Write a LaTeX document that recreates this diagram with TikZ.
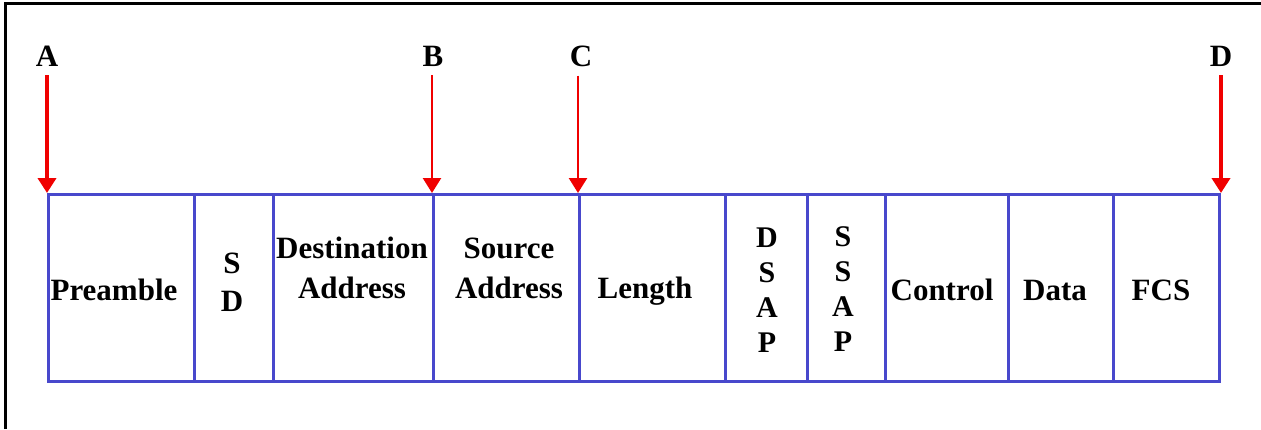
\documentclass[tikz,border=0pt]{standalone}
\usepackage{fontspec}
\setmainfont{Liberation Serif}
\usetikzlibrary{arrows.meta}
\definecolor{frameblue}{RGB}{72,72,204}
\definecolor{arrowred}{RGB}{240,0,0}
\begin{document}
\begin{tikzpicture}[x=1pt,y=-1pt,
 cell/.style={draw=frameblue,line width=3pt,inner sep=0pt,minimum height=187pt,anchor=north west},
 lbl/.style={font=\fontsize{31}{36}\selectfont\bfseries,align=center,inner sep=0pt},
 marker/.style={font=\fontsize{31}{36}\selectfont\bfseries,inner sep=0pt},
 ptr/.style={draw=arrowred,line width=4pt,shorten <=9pt,-{Triangle[width=18pt,length=15pt]}},
 thinptr/.style={ptr,line width=2.5pt}]
\useasboundingbox (0,0) rectangle (1261,429);
\fill[white] (0,0) rectangle (1261,429);
\draw[line width=3pt] (5,429) -- (5,3) -- (1261,3);
% cells
\node[cell,minimum width=146pt] (pre) at (47,193) {};
\node[cell,minimum width=79pt] (sd) at (193,193) {};
\node[cell,minimum width=160pt] (dst) at (272,193) {};
\node[cell,minimum width=146pt] (src) at (432,193) {};
\node[cell,minimum width=146pt] (len) at (578,193) {};
\node[cell,minimum width=82pt] (dsap) at (724,193) {};
\node[cell,minimum width=78pt] (ssap) at (806,193) {};
\node[cell,minimum width=123pt] (ctl) at (884,193) {};
\node[cell,minimum width=105pt] (data) at (1007,193) {};
\node[cell,minimum width=106pt] (fcs) at (1112,193) {};
% texts
\node[lbl] (tpre) at (114,290) {Preamble};
\node[lbl,font=\fontsize{31}{38}\selectfont\bfseries] (tsd) at (232,282) {S\\D};
\node[lbl,font=\fontsize{31}{40}\selectfont\bfseries] (tdst) at (352,268) {Destination\\Address};
\node[lbl,font=\fontsize{31}{40}\selectfont\bfseries] (tsrc) at (509,268) {Source\\Address};
\node[lbl] (tlen) at (645,291) {Length};
\node[lbl,font=\fontsize{30}{35}\selectfont\bfseries] (tdsap) at (767,290) {D\\S\\A\\P};
\node[lbl,font=\fontsize{30}{35}\selectfont\bfseries] (tssap) at (843,289) {S\\S\\A\\P};
\node[lbl] (tctl) at (942,290) {Control};
\node[lbl] (tdata) at (1055,290) {Data};
\node[lbl] (tfcs) at (1161,290) {FCS};
% markers
\node[marker] (A) at (47,56) {A};
\node[marker] (B) at (433,56) {B};
\node[marker] (C) at (581,56) {C};
\node[marker] (D) at (1221,56) {D};
\draw[ptr] (pre.north west |- A.south) -- (pre.north west);
\draw[thinptr] (src.north west |- B.south) -- (src.north west);
\draw[thinptr] (len.north west |- C.south) -- (len.north west);
\draw[ptr] (fcs.north east |- D.south) -- (fcs.north east);
\end{tikzpicture}
\end{document}
